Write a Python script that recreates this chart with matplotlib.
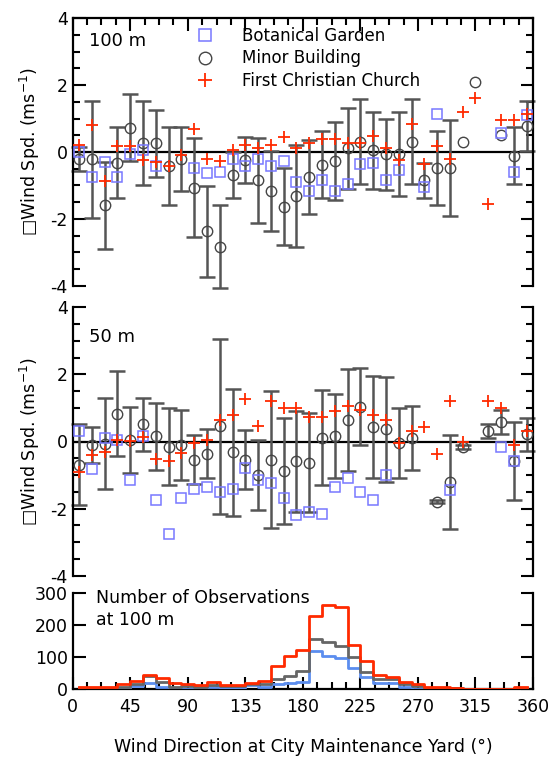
import numpy as np
import matplotlib
matplotlib.use("Agg")
import matplotlib.pyplot as plt
from matplotlib.ticker import MultipleLocator
from matplotlib.lines import Line2D

plt.rcParams['font.family'] = ['DejaVu Sans']
plt.rcParams['axes.unicode_minus'] = False

nan = np.nan
direction = np.arange(5, 360, 10)  # bin centres (deg)

# ---- 100 m panel ----
bot100 = [0.0, -0.75, -0.29, -0.75, -0.07, 0.06, -0.42, nan, nan, -0.49, -0.64, -0.59,
          -0.22, -0.42, -0.22, -0.42, -0.27, -0.9, -1.17, -0.85, -1.17, -0.95, -0.37, -0.32,
          -0.85, -0.54, nan, -1.06, 1.15, nan, nan, nan, nan, 0.56, -0.59, 1.1]
minor100 = [-0.22, -0.22, -1.59, -0.32, 0.73, 0.26, 0.26, -0.42, -0.22, -1.07, -2.37, -2.83,
            -0.69, -0.25, -0.85, -1.17, -1.64, -1.32, -0.75, -0.38, -0.27, 0.11, 0.31, 0.05,
            -0.07, -0.07, 0.31, -0.85, -0.48, -0.48, 0.31, 2.1, nan, 0.52, -0.11, 0.78]
minor100_err = [0.36, 1.74, 1.30, 1.06, 1.0, 1.26, 1.0, 1.17, 0.96, 1.48, 1.36, 1.25,
                0.69, 0.69, 1.26, 1.2, 1.15, 1.53, 1.1, 1.0, 1.16, 1.21, 1.27, 1.16,
                1.06, 1.26, 1.27, 0.53, 1.1, 1.43, nan, nan, nan, nan, 0.85, 0.74]
fcc100 = [0.21, 0.8, -0.88, 0.17, 0.17, -0.25, -0.29, -0.42, -0.09, 0.7, -0.2, -0.27,
          0.06, 0.21, 0.11, 0.21, 0.44, 0.11, 0.28, 0.38, 0.38, 0.26, 0.28, 0.48,
          0.11, -0.25, 0.85, -0.35, 0.17, -0.22, 1.21, 1.63, -1.57, 0.95, 0.95, 1.15]

# ---- 50 m panel ----
bot50 = [0.31, -0.83, 0.11, 0.03, -1.15, 0.16, -1.73, -2.77, -1.68, -1.41, -1.36, -1.51,
         -1.41, -0.79, -1.15, -1.25, -1.68, -2.2, -2.1, -2.15, -1.36, -1.1, -1.51, -1.73,
         -1.0, nan, nan, nan, nan, -1.46, nan, nan, nan, -0.16, -0.58, nan]
minor50 = [-0.69, -0.11, -0.06, 0.83, 0.04, 0.52, 0.16, -0.16, -0.11, -0.54, -0.37, 0.46,
           -0.32, -0.54, -0.99, -0.54, -0.89, -0.59, -0.63, 0.11, 0.16, 0.63, 1.04, 0.42,
           0.36, -0.04, 0.11, nan, -1.79, -1.21, -0.16, nan, 0.31, 0.58, -0.58, 0.21]
minor50_err = [1.2, 0.53, 1.36, 1.26, 0.99, 0.79, 1.0, 1.15, 1.05, 0.74, 0.73, 2.61,
               1.89, 0.89, 1.04, 2.04, 1.58, 1.5, 1.47, 1.42, 1.25, 1.52, 1.15, 1.52,
               1.57, 1.05, 0.95, nan, 0.05, 1.4, 0.06, nan, 0.21, 0.36, 1.15, 0.48]
fcc50 = [-0.91, -0.4, -0.31, 0.03, 0.01, 0.12, -0.52, -0.57, -0.34, -0.04, 0.04, 0.63,
         0.8, 1.27, 0.45, 1.2, 1.0, 1.0, 0.72, 0.74, 0.9, 1.05, 0.95, 0.8,
         0.64, -0.04, 0.32, 0.43, -0.36, 1.22, -0.02, nan, 1.22, 1.0, -0.09, 0.31]

# ---- number of observations at 100 m ----
n_fcc = [6, 6, 6, 16, 27, 46, 36, 19, 17, 12, 23, 13, 13, 21, 27, 73, 105, 123,
         230, 264, 258, 139, 88, 45, 40, 22, 17, 6, 6, 5, 2, 2, 2, 2, 7, 7]
n_minor = [3, 3, 4, 8, 17, 43, 24, 8, 9, 8, 15, 10, 10, 17, 16, 31, 43, 57,
           156, 149, 135, 102, 55, 32, 32, 17, 10, 4, 4, 4, 1, 1, 1, 1, 4, 4]
n_bot = [0, 0, 1, 3, 10, 19, 6, 2, 2, 2, 6, 3, 3, 13, 8, 17, 21, 24,
         121, 104, 97, 66, 40, 19, 19, 6, 1, 1, 0, 0, 0, 0, 0, 0, 0, 0]

labels = ['Botanical Garden', 'Minor Building', 'First Christian Church']
xticks = [0, 45, 90, 135, 180, 225, 270, 315, 360]

c_sq = '#7878ff'
c_ci = '#454545'
c_pl = '#ff2a00'
c_err = '#555555'

W, H = 551, 759
fig = plt.figure(figsize=(W / 100, H / 100), dpi=100)

def fx(px):
    return px / W

def fy(py):
    return 1 - py / H

L, R = 72.7, 533.0
ax1 = fig.add_axes([fx(L), fy(285.7), fx(R - L), (285.7 - 18.3) / H])
ax2 = fig.add_axes([fx(L), fy(575.7), fx(R - L), (575.7 - 307.3) / H])
ax3 = fig.add_axes([fx(L), fy(689.3), fx(R - L), (689.3 - 593.3) / H])

def style_common(ax):
    for s in ax.spines.values():
        s.set_linewidth(1.6)
        s.set_color('black')
    ax.tick_params(which='both', direction='in', width=1.5, colors='black',
                   labelsize=12.5, top=True, right=True)
    ax.tick_params(which='major', length=9)
    ax.tick_params(which='minor', length=5)
    ax.set_xlim(0, 360)
    ax.xaxis.set_major_locator(MultipleLocator(45))
    ax.xaxis.set_minor_locator(MultipleLocator(11.25))

def diff_panel(ax, sq, ci, ci_err, pl, toplabel):
    style_common(ax)
    ax.set_ylim(-4, 4)
    ax.yaxis.set_major_locator(MultipleLocator(2))
    ax.yaxis.set_minor_locator(MultipleLocator(0.5))
    ax.axhline(0, color='black', lw=1.6, zorder=1)
    ax.errorbar(direction, ci, yerr=ci_err, fmt='none', ecolor=c_err, elinewidth=1.8,
                capsize=5.5, capthick=1.8, zorder=2, clip_on=False)
    ax.plot(direction, ci, 'o', mfc='none', mec=c_ci, mew=1.0, ms=7.5, zorder=3,
            clip_on=False)
    ax.plot(direction, sq, 's', mfc='none', mec=c_sq, mew=1.1, ms=7, zorder=4,
            clip_on=False)
    ax.plot(direction, pl, '+', color=c_pl, mew=1.3, ms=9, zorder=5, clip_on=False)
    ax.set_ylabel('\u25a1Wind Spd. (ms$^{-1}$)', fontsize=12.5, labelpad=6)
    ax.tick_params(axis='x', labelbottom=False)
    ax.text(0.036, toplabel[1], toplabel[0], transform=ax.transAxes, fontsize=13,
            va='center', ha='left')

diff_panel(ax1, bot100, minor100, minor100_err, fcc100, ('100 m', 0.915))
diff_panel(ax2, bot50, minor50, minor50_err, fcc50, ('50 m', 0.89))

ax1.spines['bottom'].set_visible(False)
ax1.tick_params(axis='x', which='both', bottom=False)
ax2.spines['top'].set_visible(False)
ax2.spines['bottom'].set_visible(False)
ax2.tick_params(axis='x', which='both', bottom=False, top=False)

handles = [Line2D([], [], ls='none', marker='s', mfc='none', mec=c_sq, mew=1.1, ms=9),
           Line2D([], [], ls='none', marker='o', mfc='none', mec=c_ci, mew=1.0, ms=9),
           Line2D([], [], ls='none', marker='+', color=c_pl, mew=1.3, ms=10)]
ax1.legend(handles, labels, loc='upper left', bbox_to_anchor=(0.255, 0.985),
           frameon=False, fontsize=12, handlelength=1.2, handletextpad=1.6,
           labelspacing=0.25, borderaxespad=0.2, borderpad=0.1)

# ---- counts panel ----
style_common(ax3)
ax3.spines['top'].set_visible(False)
ax3.tick_params(axis='x', which='both', top=False)
ax3.set_ylim(0, 300)
ax3.yaxis.set_major_locator(MultipleLocator(100))
ax3.step(direction, n_bot, where='post', color='#5b8def', lw=2.0, zorder=3)
ax3.step(direction, n_minor, where='post', color='#666666', lw=2.0, zorder=4)
ax3.step(direction, n_fcc, where='post', color='#ff2a00', lw=2.0, zorder=5)
ax3.set_xticks(xticks)
ax3.set_xticklabels([str(v) for v in xticks])
ax3.tick_params(axis='x', pad=6)
ax3.text(0.05, 1.04, 'Number of Observations\nat 100 m', transform=ax3.transAxes,
         fontsize=12.5, va='top', ha='left', linespacing=1.25)
ax3.set_xlabel('Wind Direction at City Maintenance Yard (\u00b0)', fontsize=12.5,
               labelpad=16)

fig.savefig('out.png', dpi=100)
